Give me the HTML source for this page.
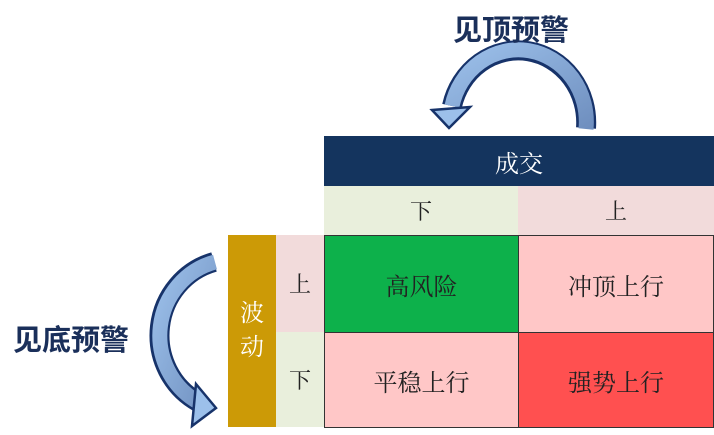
<!DOCTYPE html>
<html><head><meta charset="utf-8"><style>
html,body{margin:0;padding:0;background:#fff;width:714px;height:435px;overflow:hidden}
.t{position:absolute;font-family:"Liberation Serif","Noto Serif CJK SC",serif;display:flex;align-items:center;justify-content:center;box-sizing:border-box;color:#222}
.b{font-family:"Liberation Sans","Noto Sans CJK SC",sans-serif;font-weight:bold;color:#1a2f5a}
</style></head><body>
<svg width="714" height="435" style="position:absolute;left:0;top:0">
<defs><linearGradient id="g" x1="0" y1="0" x2="1" y2="1"><stop offset="0" stop-color="#9cc0ea"/><stop offset="1" stop-color="#6f8fbf"/></linearGradient></defs>
<path d="M586,128 A68,72 0 0 0 452,106" fill="none" stroke="#17336a" stroke-width="20"/>
<path d="M586,129 A68,72 0 0 0 452,106" fill="none" stroke="url(#g)" stroke-width="15"/>
<polygon points="432,110 470,107 449,128" fill="#9cc0ea" stroke="#17336a" stroke-width="2.5"/>
<path d="M214,262 A74,76 0 0 0 198,402" fill="none" stroke="#17336a" stroke-width="20"/>
<path d="M215,262 A74,76 0 0 0 198,402" fill="none" stroke="url(#g)" stroke-width="15"/>
<polygon points="196,384 216,408 192,426" fill="#9cc0ea" stroke="#17336a" stroke-width="2.5"/>
</svg>
<div class="t b" style="left:436px;top:9px;width:150px;height:38px;font-size:29px">见顶预警</div>
<div class="t b" style="left:2px;top:319px;width:138px;height:38px;font-size:29px">见底预警</div>
<div class="t" style="left:324px;top:136px;width:390px;height:50px;background:#14345e;color:#fff;font-size:24px">成交</div>
<div class="t" style="left:324px;top:186px;width:194px;height:49px;background:#e9efdc;font-size:22px">下</div>
<div class="t" style="left:518px;top:186px;width:196px;height:49px;background:#f2dbdb;font-size:22px">上</div>
<div class="t" style="left:228px;top:235px;width:48px;height:192px;background:#cc9a06;color:#fff;font-size:24px;flex-direction:column;line-height:34px">波<br>动</div>
<div class="t" style="left:276px;top:235px;width:48px;height:97px;background:#f2dbdb;font-size:22px">上</div>
<div class="t" style="left:276px;top:332px;width:48px;height:95px;background:#e9efdc;font-size:22px">下</div>
<div class="t" style="left:324px;top:235px;width:195px;height:98px;background:#0db14b;border:1.5px solid #333;font-size:24px">高风险</div>
<div class="t" style="left:518px;top:235px;width:196px;height:98px;background:#ffc7c7;border:1.5px solid #333;font-size:24px">冲顶上行</div>
<div class="t" style="left:324px;top:332px;width:195px;height:96px;background:#ffc7c7;border:1.5px solid #333;font-size:24px">平稳上行</div>
<div class="t" style="left:518px;top:332px;width:196px;height:96px;background:#ff5050;border:1.5px solid #333;font-size:24px">强势上行</div>
</body></html>
